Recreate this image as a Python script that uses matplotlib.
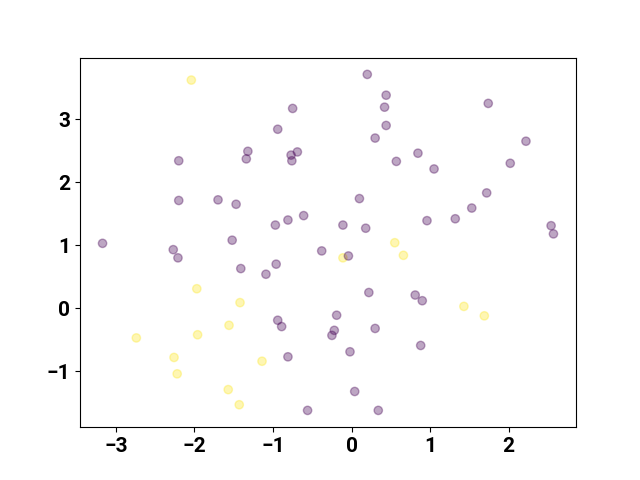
import matplotlib.pyplot as plt

plt.rcParams['font.family'] = ['Roboto', 'DejaVu Sans']
plt.rcParams['font.weight'] = 'bold'
plt.rcParams['font.size'] = 15

# group 0 = purple, group 1 = yellow
x = [-3.17, -2.20, -2.20, -1.70, -1.47, -1.52, -2.27, -2.21, -1.41, -1.32,
     -1.34, -0.75, -0.94, -0.69, -0.77, -0.76, -0.97, -0.81, -0.61, -0.11,
     0.18, 0.10, 0.20, 0.44, 0.42, 0.44, 0.30, 0.57, 0.845, 1.05,
     1.74, 2.22, 2.02, 1.72, 1.53, 1.32, 0.96, 2.54, 2.57, 0.81,
     0.90, 0.88, -0.38, -0.11, -0.04, -0.96, -1.09, 0.22, -0.19, -0.94,
     -0.89, -0.22, -0.25, 0.30, -0.02, -0.81, 0.04, -0.56, 0.34,
     -2.04, 0.55, 0.66, -1.97, -1.42, -1.56, -1.96, -2.74, -2.26, -2.22,
     -1.57, -1.43, -1.14, 1.43, 1.69]
y = [1.03, 2.34, 1.71, 1.72, 1.65, 1.08, 0.93, 0.80, 0.63, 2.49,
     2.37, 3.17, 2.84, 2.48, 2.43, 2.34, 1.32, 1.40, 1.47, 1.32,
     1.27, 1.74, 3.71, 3.38, 3.19, 2.90, 2.70, 2.33, 2.46, 2.21,
     3.25, 2.65, 2.30, 1.83, 1.59, 1.42, 1.39, 1.31, 1.18, 0.21,
     0.12, -0.59, 0.91, 0.80, 0.83, 0.70, 0.54, 0.25, -0.11, -0.19,
     -0.29, -0.35, -0.43, -0.32, -0.69, -0.77, -1.32, -1.62, -1.62,
     3.62, 1.04, 0.84, 0.31, 0.09, -0.27, -0.42, -0.47, -0.78, -1.04,
     -1.29, -1.53, -0.84, 0.03, -0.12]
group = [0, 0, 0, 0, 0, 0, 0, 0, 0, 0,
         0, 0, 0, 0, 0, 0, 0, 0, 0, 0,
         0, 0, 0, 0, 0, 0, 0, 0, 0, 0,
         0, 0, 0, 0, 0, 0, 0, 0, 0, 0,
         0, 0, 0, 1, 0, 0, 0, 0, 0, 0,
         0, 0, 0, 0, 0, 0, 0, 0, 0,
         1, 1, 1, 1, 1, 1, 1, 1, 1, 1,
         1, 1, 1, 1, 1]

fig, ax = plt.subplots(figsize=(6.4, 4.8), dpi=100)
ax.scatter(x, y, c=group, cmap='viridis', alpha=0.35)
ax.set_xticks([-3, -2, -1, 0, 1, 2])
ax.set_yticks([-1, 0, 1, 2, 3])

plt.savefig("out.png")
